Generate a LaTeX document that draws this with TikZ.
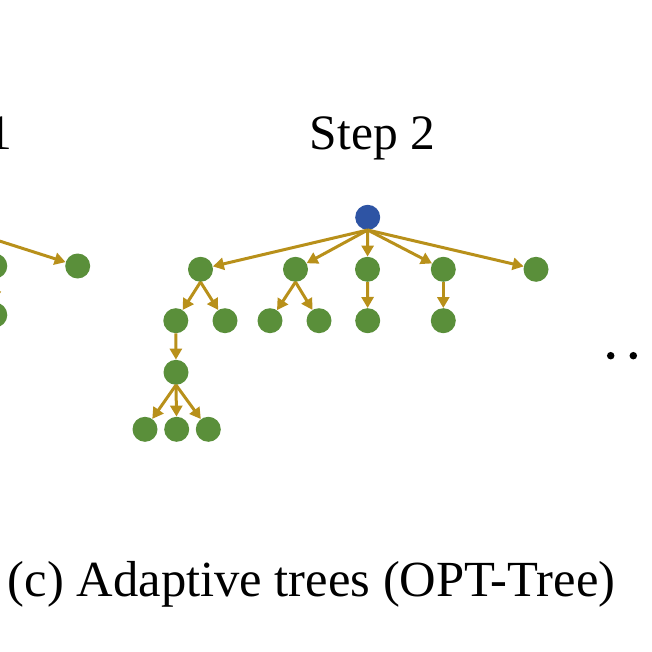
\documentclass[tikz,border=0pt]{standalone}
\usepackage{fontspec}
\setmainfont{Liberation Serif}
\usetikzlibrary{arrows.meta}
\definecolor{nodegreen}{HTML}{5A8F3A}
\definecolor{rootblue}{HTML}{2E54A4}
\definecolor{edgegold}{HTML}{B8901A}
\begin{document}
\begin{tikzpicture}[x=1pt,y=-1pt,
  tn/.style={circle,fill=nodegreen,minimum size=25pt,inner sep=0pt},
  rn/.style={circle,fill=rootblue,minimum size=25pt,inner sep=0pt},
  ed/.style={draw=edgegold,line width=3pt,-{Triangle[length=11pt,width=12pt]}},
  lbl/.style={font=\fontsize{49.5}{58}\selectfont,inner sep=0pt,anchor=base},
  ddot/.style={circle,fill=black,minimum size=7.5pt,inner sep=0pt}]
\useasboundingbox (0,0) rectangle (652,652);
% Step 1 (partially visible)
\node[lbl,anchor=base east] (s1) at (12.5,149.3) {Step 1};
\node[rn] (a0) at (-35,217.3) {};
\node[tn] (a1) at (-5.2,266) {};
\node[tn] (a2) at (77.7,266) {};
\node[tn] (a3) at (-5.2,315) {};
\draw[ed] (a0.south) -- (a1);
\draw[ed] (a0.south) -- (a2);
\draw[ed] (a1.south) -- (a3);
% Step 2
\node[lbl] (s2) at (372.3,149.3) {Step 2};
\node[rn] (r) at (367.7,217.3) {};
\node[tn] (b1) at (200.5,269.3) {};
\node[tn] (b2) at (295.5,269.3) {};
\node[tn] (b3) at (367.5,269.3) {};
\node[tn] (b4) at (443.3,269.3) {};
\node[tn] (b5) at (536,269.3) {};
\node[tn] (c1) at (175.8,320.7) {};
\node[tn] (c2) at (225,320.7) {};
\node[tn] (c3) at (270,320.7) {};
\node[tn] (c4) at (319,320.7) {};
\node[tn] (c5) at (367.7,320.7) {};
\node[tn] (c6) at (443.3,320.7) {};
\node[tn] (d1) at (176,372.3) {};
\node[tn] (e1) at (145,429.3) {};
\node[tn] (e2) at (176.7,429.3) {};
\node[tn] (e3) at (208.3,429.3) {};
\foreach \t in {b1,b2,b3,b4,b5} \draw[ed] (r.south) -- (\t);
\draw[ed] (b1.south) -- (c1);
\draw[ed] (b1.south) -- (c2);
\draw[ed] (b2.south) -- (c3);
\draw[ed] (b2.south) -- (c4);
\draw[ed] (b3.south) -- (c5);
\draw[ed] (b4.south) -- (c6);
\draw[ed] (c1.south) -- (d1);
\draw[ed] (d1.south) -- (e1);
\draw[ed] (d1.south) -- (e2);
\draw[ed] (d1.south) -- (e3);
% continuation dots
\node[ddot] (p1) at (610.7,355.7) {};
\node[ddot] (p2) at (633.3,355.7) {};
\node[ddot] (p3) at (655.8,355.7) {};
% caption
\node[lbl,font=\fontsize{50.6}{60}\selectfont] (cap) at (311.7,596.7) {(c) Adaptive trees (OPT-Tree)};
\end{tikzpicture}
\end{document}
